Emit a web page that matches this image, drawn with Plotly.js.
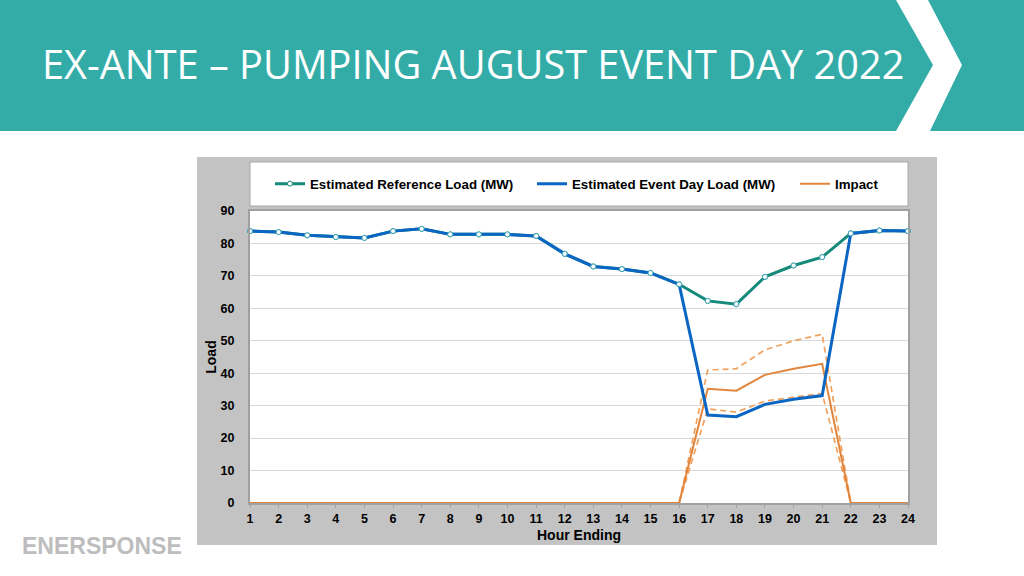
<!DOCTYPE html>
<html>
<head>
<meta charset="utf-8">
<script src="https://cdn.plot.ly/plotly-3.0.1.min.js"></script>
<style>html,body{margin:0;padding:0;background:#fff;}#chart{width:1024px;height:576px;}</style>
</head>
<body>
<div id="chart"></div>
<script>
// ---- data ----
const hours = [1,2,3,4,5,6,7,8,9,10,11,12,13,14,15,16,17,18,19,20,21,22,23,24];
const referenceLoad = [83.8,83.5,82.5,82.0,81.7,83.8,84.5,82.8,82.8,82.8,82.3,76.8,72.9,72.1,70.9,67.4,62.3,61.3,69.7,73.2,75.8,83.1,84.0,83.8];
const eventDayLoad  = [83.8,83.5,82.5,82.0,81.7,83.8,84.5,82.8,82.8,82.8,82.3,76.8,72.9,72.1,70.9,67.4,27.1,26.6,30.4,32.0,33.1,83.1,84.0,83.8];
const impact        = [0,0,0,0,0,0,0,0,0,0,0,0,0,0,0,0,35.2,34.6,39.5,41.4,42.9,0,0,0];
const impactUpper   = [0,0,0,0,0,0,0,0,0,0,0,0,0,0,0,0,41.0,41.4,47.2,50.0,52.0,0,0,0];
const impactLower   = [0,0,0,0,0,0,0,0,0,0,0,0,0,0,0,0,29.0,28.0,31.4,32.7,33.8,0,0,0];
const yTicks = [0,10,20,30,40,50,60,70,80,90];
const seriesNames = ['Estimated Reference Load (MW)','Estimated Event Day Load (MW)','Impact'];
const titleText = 'EX-ANTE – PUMPING AUGUST EVENT DAY 2022';

// ---- geometry helpers (plot area 250..908 x, 211..503 y) ----
const L = 250, R = 908, T = 211, B = 503;
const px = x => (x - L) / (R - L);
const py = y => (B - y) / (B - T);

const green = '#15897a', blue = '#0b66c3', orange = '#e2853c', orangeLight = '#f0a15e';
const fam = 'Liberation Sans, Arial, sans-serif';
const boldFont = (size) => ({family: fam, size: size, color: '#000', weight: 'bold'});

const traces = [
  {x: hours, y: impactUpper, mode: 'lines', line: {color: orangeLight, width: 1.7, dash: '6px,4px'}, showlegend: false, hoverinfo: 'skip', cliponaxis: false},
  {x: hours, y: impactLower, mode: 'lines', line: {color: orangeLight, width: 1.7, dash: '6px,4px'}, showlegend: false, hoverinfo: 'skip', cliponaxis: false},
  {x: hours, y: impact, name: seriesNames[2], legend: 'legend3', mode: 'lines', line: {color: orange, width: 2}, cliponaxis: false},
  {x: hours, y: referenceLoad, name: seriesNames[0], legend: 'legend', mode: 'lines+markers', line: {color: green, width: 3},
   marker: {symbol: 'circle', size: 5, color: '#fff', line: {color: green, width: 1}}, cliponaxis: false},
  {x: hours, y: eventDayLoad, name: seriesNames[1], legend: 'legend2', mode: 'lines', line: {color: blue, width: 3}, cliponaxis: false},
  {x: hours, y: referenceLoad, mode: 'markers', marker: {symbol: 'circle', size: 5, color: '#fff', line: {color: '#3aa3b5', width: 1}},
   showlegend: false, hoverinfo: 'skip', cliponaxis: false}
];

const shapes = [
  // header band
  {type: 'rect', xref: 'paper', yref: 'paper', x0: px(0), x1: px(1024), y0: py(0), y1: py(131), fillcolor: '#33aca8', line: {width: 0}, layer: 'below'},
  // chevron
  {type: 'path', xref: 'paper', yref: 'paper', layer: 'below', fillcolor: '#ffffff', line: {width: 0},
   path: `M ${px(896)} ${py(0)} L ${px(928)} ${py(0)} L ${px(962)} ${py(65)} L ${px(930)} ${py(131)} L ${px(896)} ${py(131)} L ${px(933)} ${py(65)} Z`},
  // chart grey frame
  {type: 'rect', xref: 'paper', yref: 'paper', x0: px(197), x1: px(937), y0: py(157), y1: py(545), fillcolor: '#c3c3c3', line: {width: 0}, layer: 'below'},
  // plot area white background
  {type: 'rect', xref: 'paper', yref: 'paper', x0: 0, x1: 1, y0: 0, y1: 1, fillcolor: '#ffffff', line: {width: 0}, layer: 'below'},
  // legend box
  {type: 'rect', xref: 'paper', yref: 'paper', x0: px(250), x1: px(908), y0: py(162), y1: py(206), fillcolor: '#ffffff', line: {color: '#a8a8a8', width: 1}, layer: 'below'}
];

const annotations = [
  {xref: 'paper', yref: 'paper', x: px(40), y: py(64), xanchor: 'left', yanchor: 'middle', showarrow: false,
   text: titleText, font: {family: 'Open Sans, sans-serif', size: 39.7, color: '#ffffff'}},
  {xref: 'paper', yref: 'paper', x: px(20), y: py(546), xanchor: 'left', yanchor: 'middle', showarrow: false,
   text: 'ENERSPONSE', font: {family: fam, size: 23, color: '#bdbdbd', weight: 'bold'}}
];

const legendBase = {orientation: 'h', y: py(184), xanchor: 'left', yanchor: 'middle', bgcolor: 'rgba(0,0,0,0)',
                    font: boldFont(13.3), itemwidth: 30};

const layout = {
  width: 1024, height: 576,
  margin: {l: L, r: 1024 - R, t: T, b: 576 - B, pad: 0},
  paper_bgcolor: '#ffffff', plot_bgcolor: '#ffffff',
  font: {family: fam, size: 12, color: '#000'},
  showlegend: true,
  legend:  Object.assign({}, legendBase, {x: px(270)}),
  legend2: Object.assign({}, legendBase, {x: px(532)}),
  legend3: Object.assign({}, legendBase, {x: px(795)}),
  xaxis: {range: [1, 24], tickvals: hours, ticktext: hours.map(String), showgrid: false, zeroline: false,
          showline: true, linecolor: '#a0a0a0', linewidth: 2, mirror: true, ticks: 'outside', ticklen: 3, tickcolor: '#a0a0a0',
          tickfont: boldFont(12.5),
          title: {text: 'Hour Ending', standoff: 5, font: boldFont(14)}},
  yaxis: {range: [0, 90], tickvals: yTicks, showgrid: true, gridcolor: '#d9d9d9', gridwidth: 1, zeroline: false,
          showline: true, linecolor: '#a0a0a0', linewidth: 2, mirror: true, ticks: '', ticklabelstandoff: 11,
          tickfont: boldFont(12.5),
          title: {text: 'Load', standoff: 1, font: boldFont(14)}},
  shapes: shapes,
  annotations: annotations
};

Plotly.newPlot('chart', traces, layout, {staticPlot: true, displayModeBar: false});
</script>
</body>
</html>
